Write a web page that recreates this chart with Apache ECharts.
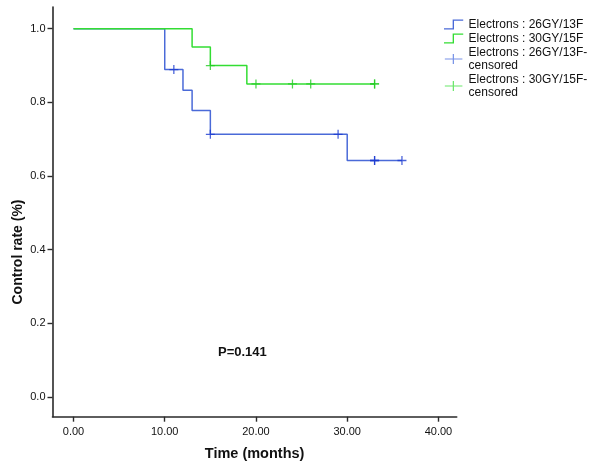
<!DOCTYPE html>
<html>
<head>
<meta charset="utf-8">
<script src="https://cdn.jsdelivr.net/npm/echarts@6/dist/echarts.min.js"></script>
<style>html,body{margin:0;padding:0;background:#fff;}#c{width:602px;height:475px;}</style>
</head>
<body>
<div id="c"></div>
<script>
// Kaplan-Meier steps: [time (months), control rate]
var seriesNames = ['Electrons : 26GY/13F', 'Electrons : 30GY/15F', 'Electrons : 26GY/13F-\ncensored', 'Electrons : 30GY/15F-\ncensored'];
var blueSteps = [[0, 1.0], [10, 0.889], [12, 0.833], [13, 0.778], [15, 0.713], [30, 0.642], [36, 0.642]];
var greenSteps = [[0, 1.0], [13, 0.95], [15, 0.90], [19, 0.85], [33, 0.85]];
var blueCensored = [[11, 0.889], [15, 0.713], [29, 0.713], [33, 0.642], [33, 0.642], [36, 0.642]];
var greenCensored = [[15, 0.90], [20, 0.85], [24, 0.85], [26, 0.85], [33, 0.85], [33, 0.85]];
var xTicks = [0, 10, 20, 30, 40];
var yTicks = [0, 0.2, 0.4, 0.6, 0.8, 1.0];
var pText = 'P=0.141';

var chart = echarts.init(document.getElementById('c'), null, {renderer: 'canvas'});
var axisCol = '#2a2a2a';
var stepIcon = 'path://M0,9 L9,9 L9,0 L20,0 L20,1.4 L10.4,1.4 L10.4,10.4 L0,10.4 Z';
var plusIcon = 'path://M0,5 L9,5 L9,0 L10.4,0 L10.4,5 L20,5 L20,6.4 L10.4,6.4 L10.4,11.4 L9,11.4 L9,6.4 L0,6.4 Z';
var plusSym = 'path://M0,4.3 L4.3,4.3 L4.3,0 L5.7,0 L5.7,4.3 L10,4.3 L10,5.7 L5.7,5.7 L5.7,10 L4.3,10 L4.3,5.7 L0,5.7 Z';

chart.setOption({
  animation: false,
  backgroundColor: '#fff',
  grid: {left: 52.5, top: 7, right: 145.3, bottom: 58.3, containLabel: false},
  legend: {
    left: 444, top: 18, orient: 'vertical', padding: 0,
    itemWidth: 20, itemHeight: 10, itemGap: 1,
    textStyle: {fontFamily: 'Liberation Sans, Arial, sans-serif', fontSize: 12, color: '#111', lineHeight: 13},
    data: [
      {name: seriesNames[0], icon: stepIcon, itemStyle: {color: '#4a6ad8'}},
      {name: seriesNames[1], icon: stepIcon, itemStyle: {color: '#33dd33'}},
      {name: seriesNames[2], icon: plusIcon, itemStyle: {color: '#5577e0'}},
      {name: seriesNames[3], icon: plusIcon, itemStyle: {color: '#44e044'}}
    ]
  },
  xAxis: {
    type: 'value', min: -2.3, max: 42.0,
    splitLine: {show: false},
    axisLine: {onZero: false, lineStyle: {color: axisCol, width: 1.6}},
    axisTick: {show: true, length: 5, customValues: xTicks, lineStyle: {color: axisCol, width: 1.4}},
    axisLabel: {customValues: xTicks, margin: 10, color: '#111', fontFamily: 'Liberation Sans, Arial, sans-serif', fontSize: 11,
      formatter: function (v) { return v.toFixed(2); }},
    name: 'Time (months)', nameLocation: 'middle', nameGap: 30,
    nameTextStyle: {fontFamily: 'Liberation Sans, Arial, sans-serif', fontSize: 14.5, fontWeight: 'bold', color: '#111'}
  },
  yAxis: {
    type: 'value', min: -0.054, max: 1.059,
    splitLine: {show: false},
    axisLine: {onZero: false, lineStyle: {color: axisCol, width: 1.6}},
    axisTick: {show: true, length: 5, customValues: yTicks, lineStyle: {color: axisCol, width: 1.4}},
    axisLabel: {customValues: yTicks, margin: 7, color: '#111', fontFamily: 'Liberation Sans, Arial, sans-serif', fontSize: 11,
      formatter: function (v) { return v.toFixed(1); }}
  },
  graphic: [
    {type: 'text', x: 18, y: 252, rotation: Math.PI / 2, style: {text: 'Control rate (%)', fill: '#111',
      font: 'bold 14px "Liberation Sans", Arial, sans-serif', align: 'center', verticalAlign: 'middle'}},
    {type: 'text', x: 218, y: 352, style: {text: pText, fill: '#111',
      font: 'bold 13px "Liberation Sans", Arial, sans-serif', align: 'left', verticalAlign: 'middle'}}
  ],
  series: [
    {name: seriesNames[0], type: 'line', step: 'end', data: blueSteps, showSymbol: false, symbol: 'none',
      lineStyle: {color: '#4a6ad8', width: 1.5}, itemStyle: {color: '#4a6ad8'}, z: 2},
    {name: seriesNames[1], type: 'line', step: 'end', data: greenSteps, showSymbol: false, symbol: 'none',
      lineStyle: {color: '#33dd33', width: 1.5}, itemStyle: {color: '#33dd33'}, z: 3},
    {name: seriesNames[2], type: 'scatter', data: blueCensored, symbol: plusSym, symbolSize: 9,
      itemStyle: {color: '#1a3ad0'}, z: 4},
    {name: seriesNames[3], type: 'scatter', data: greenCensored, symbol: plusSym, symbolSize: 9,
      itemStyle: {color: '#22cc22'}, z: 4}
  ]
});
</script>
</body>
</html>
